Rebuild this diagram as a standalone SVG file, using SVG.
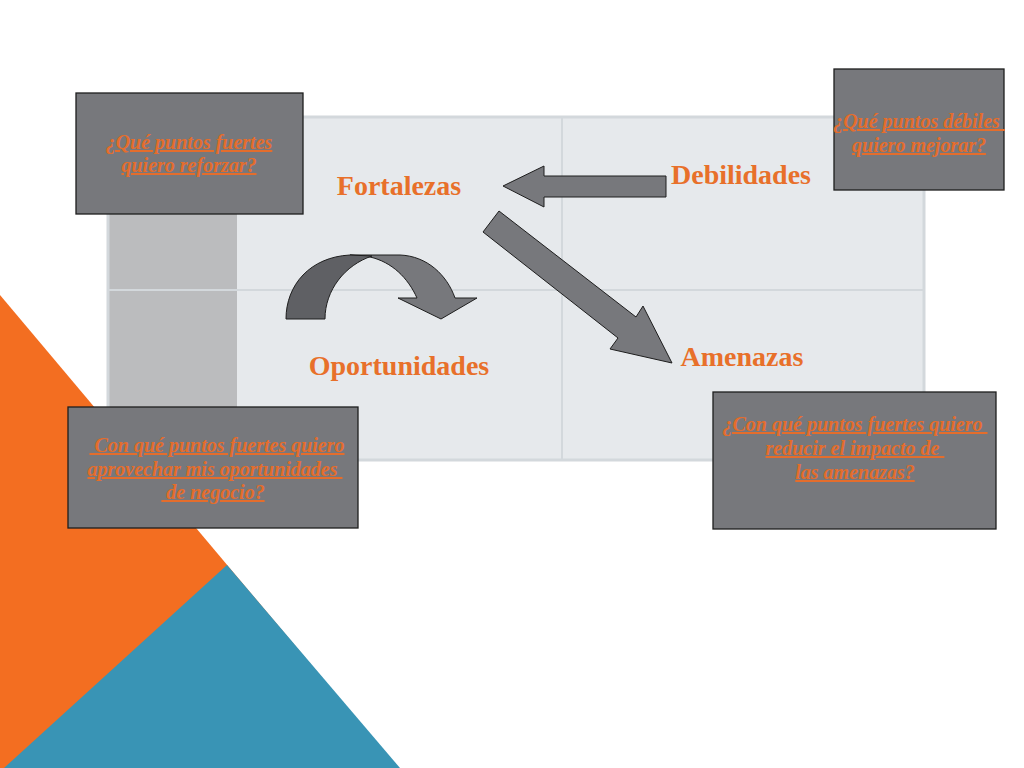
<svg xmlns="http://www.w3.org/2000/svg" width="1024" height="768" viewBox="0 0 1024 768">
<defs>
<style>
.bg{fill:#ffffff}
.cell{fill:#e6e9ec}
.side{fill:#bbbcbe}
.grid{stroke:#d3d8dc;stroke-width:2;fill:none}
.frame{stroke:#d3d8dc;stroke-width:3;fill:none}
.box{fill:#77787c;stroke:#1e1e1e;stroke-width:1.3}
.arrow{fill:#77787c;stroke:#1e1e1e;stroke-width:1}
.arrowdark{fill:#5f6064;stroke:#1e1e1e;stroke-width:1}
.lbl{font-family:"Liberation Serif","DejaVu Serif",serif;font-weight:bold;font-size:28px;fill:#e8702a;text-anchor:middle}
.q{font-family:"Liberation Serif","DejaVu Serif",serif;font-style:italic;font-weight:bold;font-size:20px;fill:#e46d2c;text-anchor:middle;text-decoration:underline;white-space:pre}
</style>
</defs>
<rect class="bg" x="0" y="0" width="1024" height="768"/>
<g id="background">
<polygon points="0,295 398,768 0,768" fill="#f36e21"/>
<polygon points="4,768 227,565 400,768" fill="#3994b5"/>
</g>
<g id="table">
<rect class="cell" x="108" y="117" width="816" height="343"/>
<rect class="side" x="109" y="118" width="128" height="341"/>
<line class="grid" x1="109" y1="290" x2="923" y2="290"/>
<line class="grid" x1="562" y1="118" x2="562" y2="459"/>
<rect class="frame" x="108" y="117" width="816" height="343"/>
</g>
<g id="connectors">
<polygon class="arrow" points="503,186 544,166 544,176 666,176 666,197 544,197 544,207"/>
<polygon class="arrow" points="499,211 636,317 643,306 672,363 610,349 618,338 483,232"/>
<path class="arrow" d="M350,255 L400,255 C427,256 447,275 455,298 L477,298 L441,319 L398,298 L417,298 C408,278 392,262 370,257 Z"/>
<path class="arrowdark" d="M286,319 C286,285 310,257 350,255 L372,256 C345,265 325,290 325,319 Z"/>
</g>
<g id="fortalezas"><text class="lbl" x="399" y="195">Fortalezas</text></g>
<g id="debilidades"><text class="lbl" x="741" y="184">Debilidades</text></g>
<g id="oportunidades"><text class="lbl" x="399" y="375">Oportunidades</text></g>
<g id="amenazas"><text class="lbl" x="742" y="366">Amenazas</text></g>
<g id="q-fortalezas">
<rect class="box" x="76" y="93" width="227" height="121"/>
<text class="q" x="189" y="149">¿Qué puntos fuertes</text>
<text class="q" x="189" y="172">quiero reforzar?</text>
</g>
<g id="q-debilidades">
<rect class="box" x="834" y="69" width="170" height="121"/>
<text class="q" x="919" y="128">¿Qué puntos débiles </text>
<text class="q" x="919" y="152">quiero mejorar?</text>
</g>
<g id="q-amenazas">
<rect class="box" x="713" y="392" width="283" height="137"/>
<text class="q" x="855" y="431">¿Con qué puntos fuertes quiero </text>
<text class="q" x="855" y="455">reducir el impacto de </text>
<text class="q" x="855" y="479">las amenazas?</text>
</g>
<g id="q-oportunidades">
<rect class="box" x="68" y="407" width="290" height="121"/>
<text class="q" x="217" y="452"> Con qué puntos fuertes quiero</text>
<text class="q" x="215" y="476">aprovechar mis oportunidades </text>
<text class="q" x="213" y="499"> de negocio?</text>
</g>
</svg>
